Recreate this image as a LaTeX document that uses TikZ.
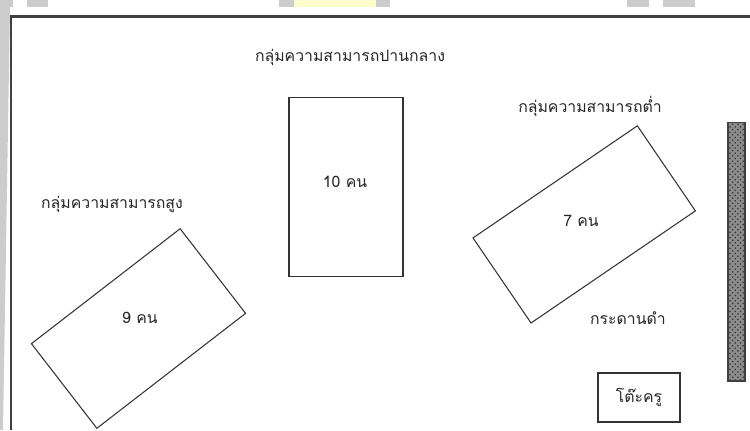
\documentclass[tikz,border=0pt]{standalone}
\usepackage{fontspec}
\newfontfamily\thaifont[Script=Thai]{Loma}
\usetikzlibrary{positioning,patterns}

\begin{document}
\begin{tikzpicture}[
  x=0.02cm, y=-0.02cm,
  grp/.style={draw=black!80, line width=0.6pt, inner sep=0pt},
  lbl/.style={font=\thaifont\fontsize{9}{11}\selectfont, text=black!85, inner sep=1pt},
  scrap/.style={fill=black!20, draw=none},
]
  \useasboundingbox (0,0) rectangle (750,430);

  % watermark scraps along the top and left edge
  \fill[scrap] (0,0) -- (13,0) -- (13,7) -- (10,7) -- (3,430) -- (0,430) -- cycle;
  \fill[scrap] (27,0) rectangle (48,7);
  \fill[scrap] (279,0) rectangle (294,7);
  \fill[yellow!20] (294,0) rectangle (376,7);
  \fill[scrap] (376,0) rectangle (390,7);
  \fill[scrap] (627,0) rectangle (649,7);
  \fill[scrap] (663,0) rectangle (695,7);

  % classroom frame
  \draw[line width=1.2pt, black!75] (11,430) -- (11,16.5) -- (750,16.5);

  % high ability group
  \node[grp, minimum width=3.76cm, minimum height=2.14cm, rotate=37.7] (high) at (138.5,328.5) {};
  \node[lbl] (highnum) at (140,318) {9 คน};
  \node[lbl] (hightitle) at (112,204) {กลุ่มความสามารถสูง};

  % middle ability group
  \node[grp, minimum width=2.28cm, minimum height=3.58cm] (mid) at (346,187) {};
  \node[lbl] (midnum) at (345,182) {10 คน};
  \node[lbl] (midtitle) at (350,57) {กลุ่มความสามารถปานกลาง};

  % low ability group
  \node[grp, minimum width=3.98cm, minimum height=2.06cm, rotate=34.3] (low) at (584.2,224.4) {};
  \node[lbl] (lownum) at (581,221) {7 คน};
  \node[lbl] (lowtitle) at (590,106) {กลุ่มความสามารถต่ำ};

  % blackboard and teacher's desk
  \node[draw=black!75, line width=0.6pt, minimum width=0.34cm, minimum height=5.18cm,
    preaction={fill=black!45}, pattern=crosshatch dots, pattern color=black!80] (board) at (736.5,251.5) {};
  \node[lbl] (boardlbl) at (628,318) {กระดานดำ};
  \node[grp, lbl, draw=black!80, minimum width=1.64cm, minimum height=0.98cm] (desk) at (639,397.5) {โต๊ะครู};
\end{tikzpicture}
\end{document}
